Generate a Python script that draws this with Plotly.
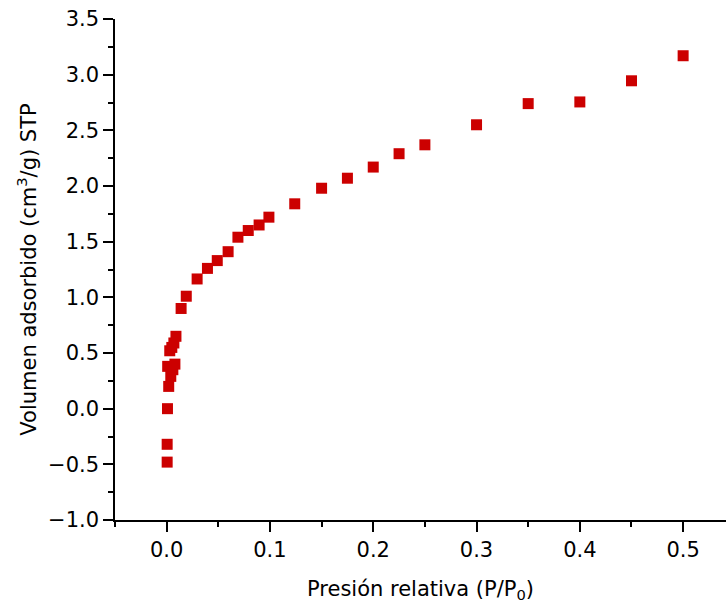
import plotly.graph_objects as go

# Relative pressure (P/P0)
presion = [0.0005, 0.0005, 0.0008, 0.002, 0.001, 0.004, 0.006, 0.008,
           0.003, 0.005, 0.007, 0.009, 0.014, 0.019, 0.0295, 0.0395,
           0.049, 0.0595, 0.069, 0.079, 0.0895, 0.099, 0.124, 0.15,
           0.175, 0.2, 0.225, 0.25, 0.3, 0.35, 0.4, 0.45, 0.5]
# Adsorbed volume (cm3/g STP)
volumen = [-0.48, -0.32, 0.0, 0.20, 0.38, 0.29, 0.35, 0.40,
           0.52, 0.55, 0.59, 0.65, 0.90, 1.01, 1.165, 1.26,
           1.33, 1.41, 1.54, 1.60, 1.65, 1.72, 1.84, 1.98,
           2.07, 2.17, 2.29, 2.37, 2.55, 2.74, 2.755, 2.945, 3.17]

x_ticks = [0.0, 0.1, 0.2, 0.3, 0.4, 0.5]
y_ticks = [-1.0, -0.5, 0.0, 0.5, 1.0, 1.5, 2.0, 2.5, 3.0, 3.5]

fig = go.Figure()
fig.add_trace(go.Scatter(
    x=presion, y=volumen, mode="markers",
    marker=dict(symbol="square", size=11, color="#cc0000", line=dict(width=0)),
    showlegend=False,
))

font_family = "DejaVu Sans"
tick_size = 21
title_size = 21
fig.update_layout(
    width=726, height=611,
    margin=dict(l=115, r=0, t=19, b=91),
    paper_bgcolor="white", plot_bgcolor="white",
    font=dict(family=font_family, size=tick_size, color="black"),
    xaxis=dict(
        range=[-0.05, 0.5415],
        tickvals=x_ticks, ticktext=[f"{v:.1f}" for v in x_ticks],
        ticks="outside", ticklen=10, tickwidth=1.5, tickcolor="black",
        minor=dict(ticks="outside", ticklen=5, tickwidth=1.5, tickcolor="black", dtick=0.05, tick0=0),
        showline=True, linecolor="black", linewidth=1.5,
        showgrid=False, zeroline=False,
        tickfont=dict(size=tick_size),
        title=dict(text="Presión relativa (P/P<sub>0</sub>)", font=dict(size=title_size), standoff=20),
    ),
    yaxis=dict(
        range=[-1.0, 3.5],
        tickvals=y_ticks, ticktext=[f"{v:.1f}".replace("-", "\u2212") for v in y_ticks],
        ticks="outside", ticklen=10, tickwidth=1.5, tickcolor="black",
        minor=dict(ticks="outside", ticklen=5, tickwidth=1.5, tickcolor="black", dtick=0.25, tick0=0),
        showline=True, linecolor="black", linewidth=1.5,
        showgrid=False, zeroline=False,
        tickfont=dict(size=tick_size),
        title=dict(text="Volumen adsorbido (cm<sup>3</sup>/g) STP", font=dict(size=title_size), standoff=6),
    ),
)

fig.write_html("out.html")
